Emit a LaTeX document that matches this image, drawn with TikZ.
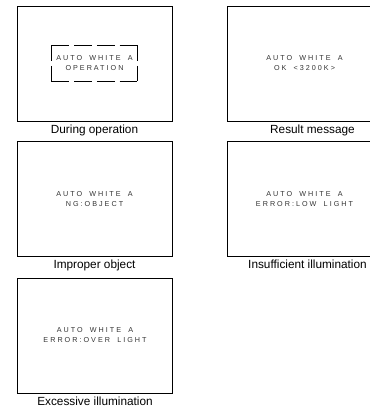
\documentclass[tikz,border=0pt]{standalone}
\usepackage{fontspec}
\setmainfont{Liberation Sans}
\newfontfamily\screenfont[LetterSpace=28, WordSpace=1.8]{Liberation Sans}
\usetikzlibrary{positioning}

\begin{document}
\begin{tikzpicture}[x=1bp,y=-1bp]
  % Base settings
  \tikzset{
    screen/.style={draw, line width=0.8bp, minimum width=155bp, minimum height=115bp, inner sep=0pt},
    screentext/.style={font=\screenfont\fontsize{7.2bp}{10bp}\selectfont, align=center, text=black!80},
    caption/.style={font=\fontsize{11.8bp}{14bp}\selectfont, inner sep=1bp},
    hdash/.style={line width=0.8bp, dash pattern=on 17.75bp off 5bp},
    vdash/.style={line width=0.8bp, dash pattern=on 15.5bp off 5bp}
  }
  \useasboundingbox (0,0) rectangle (370,409);
  \clip (0,0) rectangle (370,409);

  % --- Screens ---
  \node[screen] (op) at (94.5,63.5) {};
  \node[screen, screentext] (res) at (304.5,63.5) {AUTO WHITE A\\OK <3200K>};
  \node[screen, screentext] (ng) at (94.5,199) {AUTO WHITE A\\NG:OBJECT};
  \node[screen, screentext] (low) at (304.5,199) {AUTO WHITE A\\ERROR:LOW LIGHT};
  \node[screen, screentext] (over) at (95,335.5) {AUTO WHITE A\\ERROR:OVER LIGHT};

  % --- Dashed frame round the running message ---
  \node[screentext, minimum width=86bp, minimum height=36bp, inner sep=0pt] (opframe) at (op.center) {AUTO WHITE A\\OPERATION};
  \draw[hdash] (opframe.north west) -- (opframe.north east);
  \draw[hdash] (opframe.south west) -- (opframe.south east);
  \draw[vdash] (opframe.north west) -- (opframe.south west);
  \draw[vdash] (opframe.north east) -- (opframe.south east);

  % --- Captions ---
  \node[caption, below=2bp of op] (opcap) {During operation};
  \node[caption, below=2bp of res, xshift=8bp] (rescap) {Result message};
  \node[caption, below=2bp of ng] (ngcap) {Improper object};
  \node[caption, below=2bp of low, xshift=3bp] (lowcap) {Insufficient illumination};
  \node[caption, below=2bp of over] (overcap) {Excessive illumination};
\end{tikzpicture}
\end{document}
